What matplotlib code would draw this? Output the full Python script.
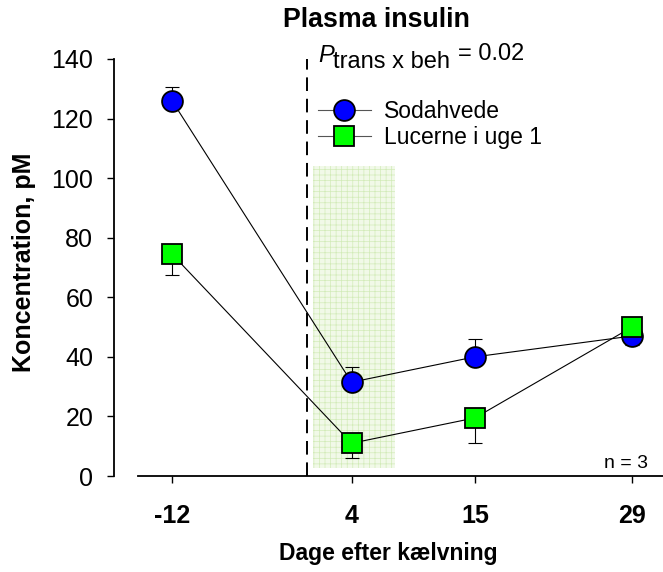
import matplotlib
matplotlib.use("Agg")
import matplotlib.pyplot as plt

plt.rcParams['font.family'] = ['Liberation Sans', 'DejaVu Sans']
plt.rcParams['hatch.color'] = '#d2ebb8'
plt.rcParams['hatch.linewidth'] = 0.5

# data
days = [-12, 4, 15, 29]
soda = [126, 31.5, 40, 47]
soda_err = [4.5, 5, 6, 3]          # upper, except last (lower)
lucerne = [74.5, 11, 19.5, 50]
lucerne_err = [7, 5, 8.5, 0]       # lower
tick_labels = ['-12', '4', '15', '29']

fig = plt.figure(figsize=(6.63, 5.72), dpi=100)
ax = fig.add_axes([138/663, 96/572, 525/663, 417/572])

# shaded period and transition line
ax.fill_between([0.6, 7.9], 2.7, 104, facecolor='#f1f9e8', edgecolor='#d2ebb8',
                hatch='+++', linewidth=0, zorder=0)
ax.plot([0, 0], [0, 140], color='black', lw=1.4, dashes=(7, 4), zorder=1)

# error bars (one sided)
s_lo = [0, 0, 0, soda_err[3]]
s_hi = [soda_err[0], soda_err[1], soda_err[2], 0]
ax.errorbar(days, soda, yerr=[s_lo, s_hi], fmt='none', ecolor='black',
            elinewidth=0.8, capsize=5, capthick=0.8, zorder=2)
l_lo = lucerne_err
l_hi = [0, 0, 0, 0]
ax.errorbar(days, lucerne, yerr=[l_lo, l_hi], fmt='none', ecolor='black',
            elinewidth=0.8, capsize=5, capthick=0.8, zorder=2)

ax.plot(days, soda, color='black', lw=0.8, marker='o', markersize=15,
        markerfacecolor='#0000ff', markeredgecolor='black', markeredgewidth=1.3,
        label='Sodahvede', zorder=3)
ax.plot(days, lucerne, color='black', lw=0.8, marker='s', markersize=14,
        markerfacecolor='#00ff00', markeredgecolor='black', markeredgewidth=1.3,
        label='Lucerne i uge 1', zorder=4)

ax.set_xlim(-15.03, 31.76)
ax.set_ylim(0, 140)
ax.set_xticks(days)
ax.set_xticklabels(tick_labels, fontsize=18, fontweight='bold')
ax.set_yticks(range(0, 141, 20))
ax.tick_params(axis='y', labelsize=18, length=5, width=1, pad=10)
ax.tick_params(axis='x', length=5, width=1, pad=15)

for s in ['top', 'right']:
    ax.spines[s].set_visible(False)
ax.spines['left'].set_position(('outward', 17.3))
ax.spines['left'].set_bounds(0, 140)
ax.spines['left'].set_linewidth(1.3)
ax.spines['bottom'].set_linewidth(1.3)

leg = ax.legend(loc='upper left', bbox_to_anchor=(318/663, 1 - 100/572),
                bbox_transform=fig.transFigure, frameon=False, fontsize=16.5,
                handlelength=2.3, handletextpad=0.6, labelspacing=0.15,
                borderpad=0, borderaxespad=0)
for h in leg.legend_handles:
    h.set_color('#555555')
    h.set_markeredgecolor('black')
leg.legend_handles[0].set_markerfacecolor('#0000ff')
leg.legend_handles[1].set_markerfacecolor('#00ff00')

fig.text(376/663, 1 - 27/572, 'Plasma insulin', ha='center', va='baseline',
         fontsize=19.3, fontweight='bold')
fig.text(388/663, 1 - 560/572, 'Dage efter k\u00e6lvning', ha='center', va='baseline',
         fontsize=16.5, fontweight='bold')
fig.text(24/663, 1 - 262/572, 'Koncentration, pM', ha='center', va='center',
         rotation=90, fontsize=18, fontweight='bold')

fig.text(318/663, 1 - 62/572, 'P', fontsize=17, style='italic', va='baseline')
fig.text(333/663, 1 - 68/572, 'trans x beh', fontsize=17, va='baseline')
fig.text(458/663, 1 - 60/572, '= 0.02', fontsize=17, va='baseline')
fig.text(648/663, 1 - 468/572, 'n = 3', fontsize=14, ha='right', va='baseline')

fig.savefig('out.png', dpi=100)
